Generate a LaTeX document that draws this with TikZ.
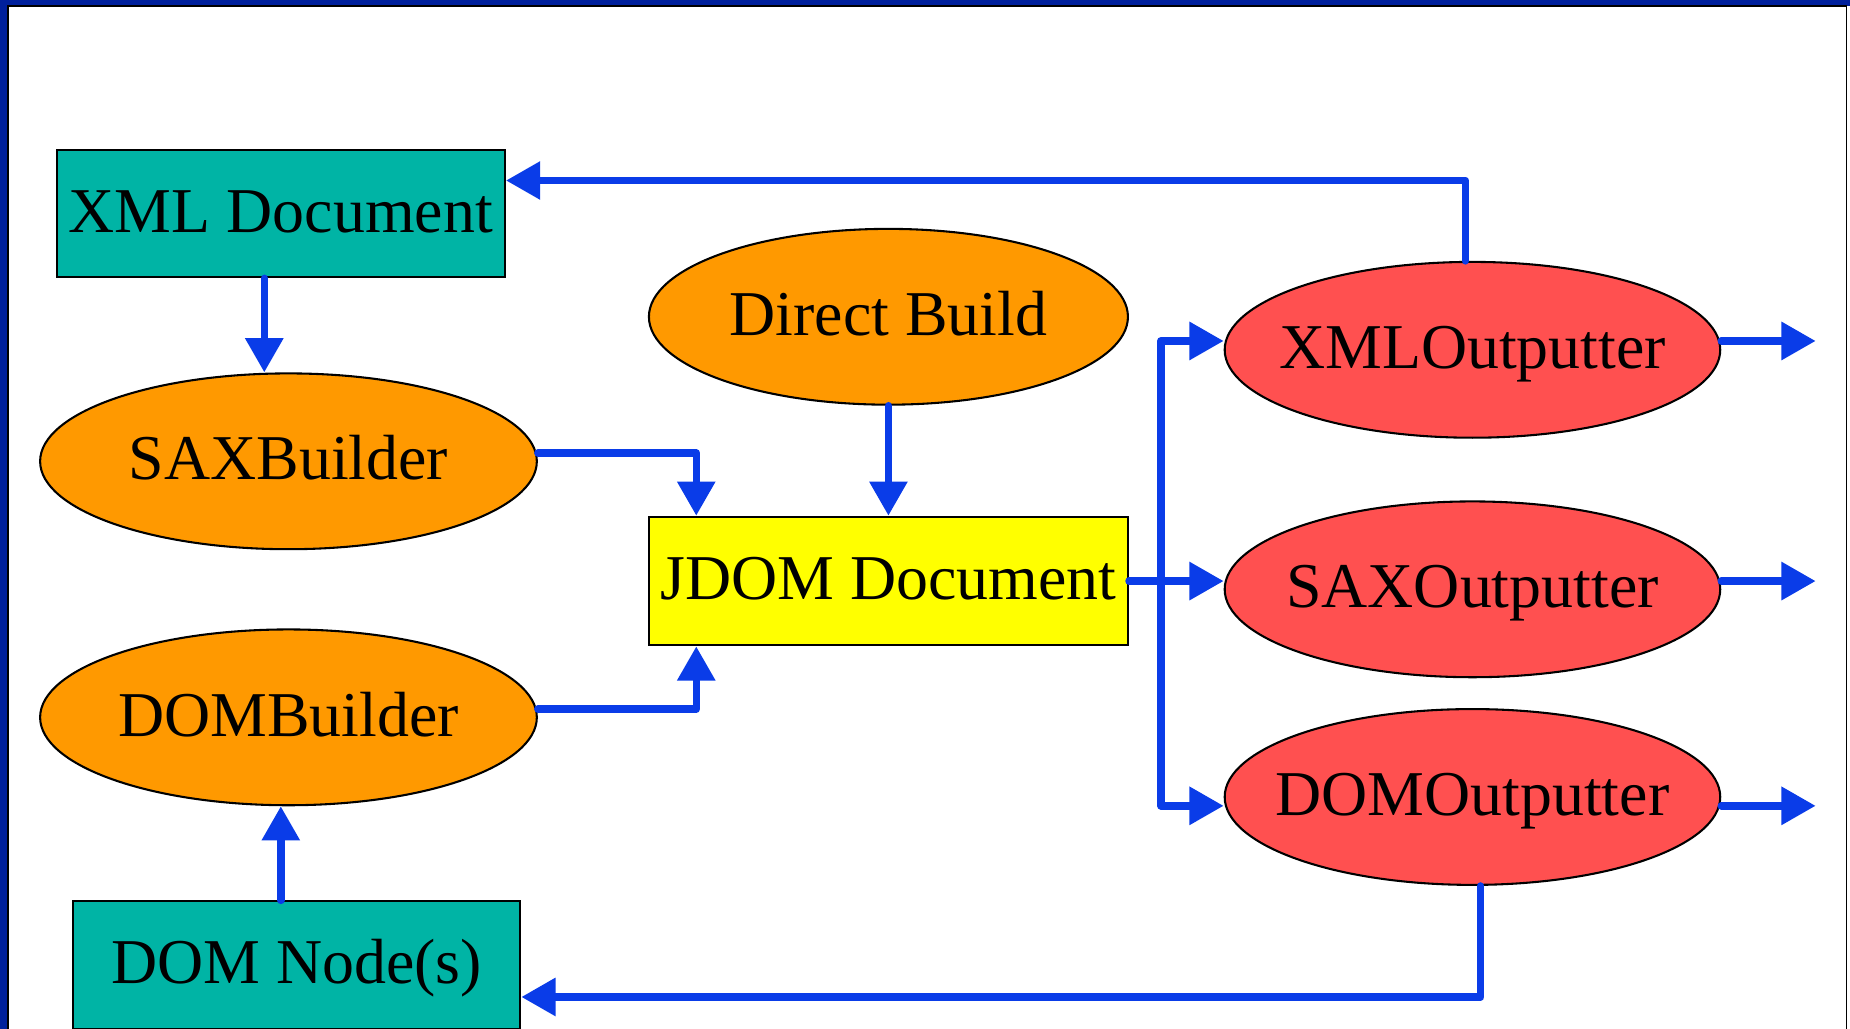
\documentclass[tikz,border=0pt]{standalone}
\usepackage{fontspec}
\setmainfont{Liberation Serif}
\usetikzlibrary{arrows.meta, shapes.geometric}
\definecolor{jdomTeal}{HTML}{00B4A5}
\definecolor{jdomOrange}{HTML}{FF9900}
\definecolor{jdomYellow}{HTML}{FFFF00}
\definecolor{jdomRed}{HTML}{FF5050}
\definecolor{jdomBlue}{HTML}{0A3CE8}
\definecolor{jdomNavy}{HTML}{00209C}

\begin{document}
\begin{tikzpicture}[font=\fontsize{15.4}{18}\selectfont,
    docbox/.style={rectangle, draw=black, line width=0.5pt, inner sep=0pt,
      text height=0.9em, text depth=0pt, minimum width=3.8cm, minimum height=1.08cm},
    oval/.style={ellipse, draw=black, line width=0.5pt, inner sep=0pt, inner xsep=-0.4cm,
      text height=0.9em, text depth=0pt, minimum height=1.49cm},
    flow/.style={draw=jdomBlue, line width=1.8pt, line cap=round, line join=round,
      -{Triangle[length=0.29cm, width=0.31cm]}}]
        \useasboundingbox (0,0) rectangle (15.68,8.72);
        % Rahmen
        \fill[white] (0,0) rectangle (15.68,8.72);
        \fill[jdomNavy] (0,8.67) rectangle (15.68,8.72);
        \fill[jdomNavy] (0,0) rectangle (0.07,8.72);
        \draw[black, line width=0.4pt] (0.07,-0.1) rectangle (15.65,8.67);

        % Eingaenge
        \node[docbox, fill=jdomTeal] (xmldoc) at (2.38,6.91) {XML Document};
        \node[oval, fill=jdomOrange, minimum width=4.21cm] (saxb) at (2.445,4.81) {SAXBuilder};
        \node[oval, fill=jdomOrange, minimum width=4.21cm] (domb) at (2.445,2.64) {DOMBuilder};
        \node[docbox, fill=jdomTeal, minimum width=3.79cm] (domnode) at (2.515,0.54) {DOM Node(s)};
        \node[oval, fill=jdomOrange, minimum width=4.06cm] (direct) at (7.53,6.035) {Direct Build};
        \node[docbox, fill=jdomYellow, minimum width=4.06cm, minimum height=1.09cm] (jdom) at (7.53,3.795) {JDOM Document};

        % Ausgaenge
        \node[oval, fill=jdomRed, minimum width=4.2cm] (xmlout) at (12.48,5.755) {XMLOutputter};
        \node[oval, fill=jdomRed, minimum width=4.2cm] (saxout) at (12.48,3.725) {SAXOutputter};
        \node[oval, fill=jdomRed, minimum width=4.2cm] (domout) at (12.48,1.965) {DOMOutputter};

        % Verbindungen
        \coordinate (xd) at ([xshift=-0.14cm]xmldoc.south);
        \draw[flow] (xd) -- (xd |- saxb.north);
        \draw[flow] ([yshift=0.07cm]saxb.east) -| ([xshift=0.41cm]jdom.north west);
        \draw[flow] ([yshift=0.07cm]domb.east) -| ([xshift=0.41cm]jdom.south west);
        \draw[flow] (direct.south) -- (jdom.north);
        \coordinate (dn) at ([xshift=-0.135cm]domnode.north);
        \draw[flow] (dn) -- (dn |- domb.south);

        \coordinate (split) at ([xshift=0.27cm]jdom.east);
        \draw[flow] (jdom.east) -- (saxout.west |- jdom.east);
        \draw[flow] (split) |- ([yshift=0.075cm]xmlout.west);
        \draw[flow] (split) |- ([yshift=-0.075cm]domout.west);
        \foreach \n/\dy in {xmlout/0.075, saxout/0.07, domout/-0.075}
        {
          \coordinate (\n-end) at ([shift={(0.8,\dy)}]\n.east);
          \draw[flow] (\n.east |- \n-end) -- (\n-end);
        }

        \draw[flow] ([xshift=-0.06cm]xmlout.north) |- ([yshift=0.28cm]xmldoc.east);
        \draw[flow] ([xshift=0.07cm]domout.south) |- ([yshift=-0.27cm]domnode.east);
      \end{tikzpicture}
\end{document}
